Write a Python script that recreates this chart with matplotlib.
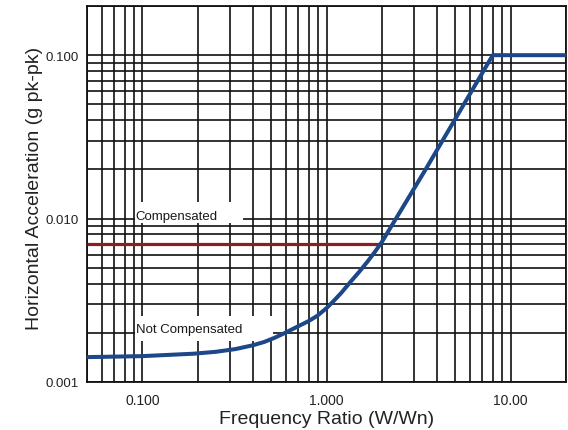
import matplotlib
matplotlib.use("Agg")
import matplotlib.pyplot as plt
from matplotlib.patches import Rectangle
from matplotlib.ticker import LogLocator, NullFormatter

plt.rcParams['font.family'] = ['Liberation Sans', 'DejaVu Sans']

# Data
freq_ratio = [0.05, 0.1, 0.19, 0.25, 0.32, 0.4, 0.46, 0.52, 0.58, 0.7, 0.8, 0.89, 1.0,
              1.09, 1.2, 1.35, 1.5, 1.68, 1.84, 2.0, 3.4, 8.0, 20.0]
accel_not_comp = [0.00142, 0.00144, 0.00149, 0.00153, 0.00159, 0.00168, 0.00176, 0.00186,
                  0.00197, 0.00219, 0.00236, 0.00254, 0.00283, 0.00312, 0.0035, 0.0041,
                  0.0047, 0.0055, 0.0063, 0.0072, 0.0194, 0.1, 0.1]
comp_x = [0.05, 2.0]
comp_y = [0.007, 0.007]

x_ticks = [0.1, 1.0, 10.0]
x_ticklabels = ["0.100", "1.000", "10.00"]
y_ticks = [0.001, 0.01, 0.1]
y_ticklabels = ["0.001", "0.010", "0.100"]

fig = plt.figure(figsize=(5.68, 4.31), dpi=100)
ax = fig.add_axes([87/568, 1-383/431, 479/568, 376/431])
ax.set_xscale('log')
ax.set_yscale('log')
ax.set_xlim(0.05, 20)
ax.set_ylim(0.001, 0.2)

ax.xaxis.set_minor_locator(LogLocator(base=10, subs=range(2, 10), numticks=20))
ax.yaxis.set_minor_locator(LogLocator(base=10, subs=range(2, 10), numticks=20))
ax.xaxis.set_minor_formatter(NullFormatter())
ax.yaxis.set_minor_formatter(NullFormatter())
ax.grid(True, which='both', color='#111111', linewidth=1.2, zorder=1)
ax.set_axisbelow(True)

ax.set_xticks(x_ticks)
ax.set_xticklabels(x_ticklabels)
ax.set_yticks(y_ticks)
ax.set_yticklabels(y_ticklabels)
ax.tick_params(which='both', length=0, colors='#222222')
ax.tick_params(axis='x', pad=8, labelsize=10)
ax.tick_params(axis='y', pad=6, labelsize=9.5)
for s in ax.spines.values():
    s.set_color('#111111')
    s.set_linewidth(1.3)

# label boxes (white) that interrupt the grid
ax.add_patch(Rectangle((0.100, 0.423), 0.226, 0.056, transform=ax.transAxes,
                       facecolor='white', edgecolor='none', zorder=2))
ax.add_patch(Rectangle((0.100, 0.109), 0.288, 0.067, transform=ax.transAxes,
                       facecolor='white', edgecolor='none', zorder=2))
ax.text(0.101, 0.441, "Compensated", transform=ax.transAxes, fontsize=9.5,
        va='center', ha='left', color='#1a1a1a', zorder=3)
ax.text(0.103, 0.141, "Not Compensated", transform=ax.transAxes, fontsize=9.5,
        va='center', ha='left', color='#1a1a1a', zorder=3)

ax.plot(comp_x, comp_y, color='#8b1e1e', linewidth=2.3, zorder=4, solid_capstyle='butt')
ax.plot(freq_ratio, accel_not_comp, color='#1c4788', linewidth=2.9, zorder=5)

ax.set_xlabel("Frequency Ratio (W/Wn)", fontsize=14, color='#222222')
ax.xaxis.set_label_coords(0.5, -(420 - 383) / 376, transform=ax.transAxes)
ax.xaxis.label.set_va('center')
ax.set_ylabel("Horizontal Acceleration (g pk-pk)", fontsize=14, color='#222222')
ax.yaxis.set_label_coords(-(87 - 35) / 479, (383 - 188) / 376, transform=ax.transAxes)
ax.yaxis.label.set_va('center')

fig.savefig("out.png", dpi=100)
